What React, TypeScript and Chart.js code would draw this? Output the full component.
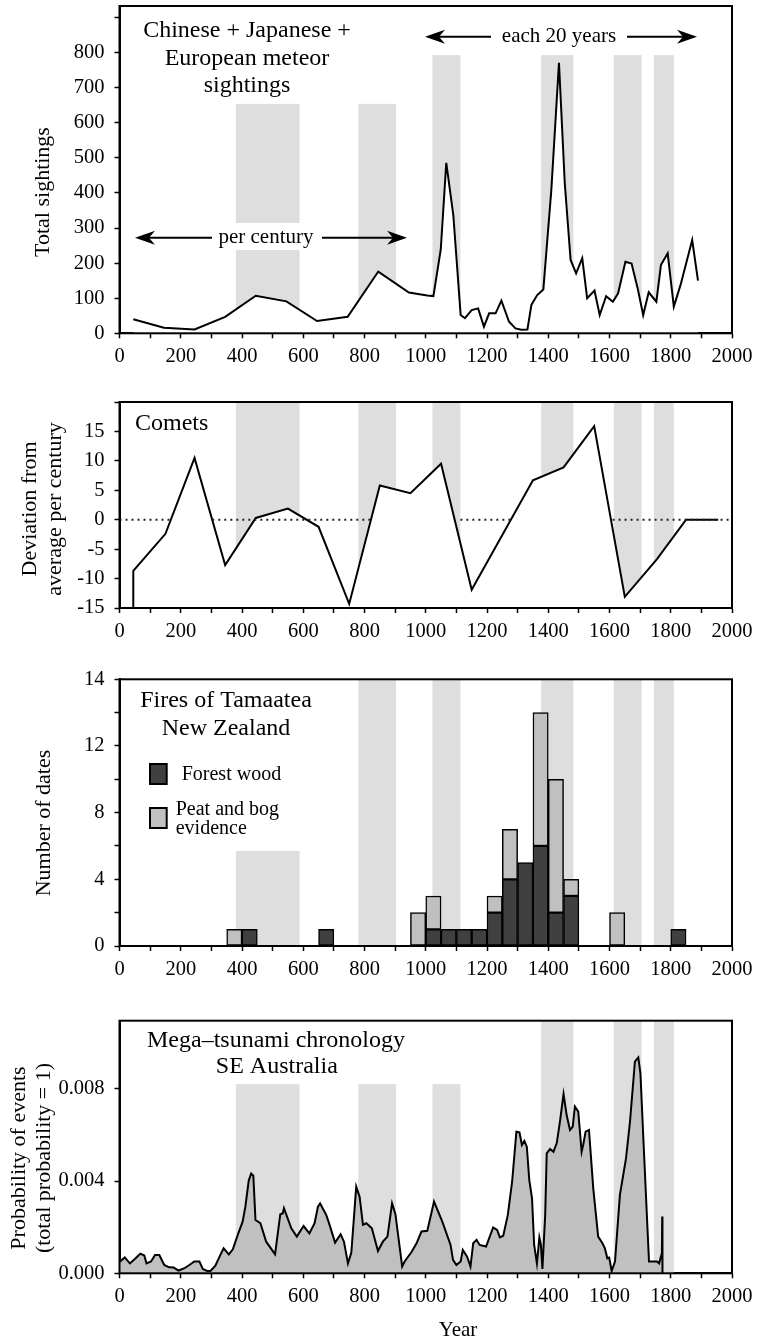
import React, { useEffect, useRef } from 'react';
import { Chart, registerables } from 'chart.js';

Chart.register(...registerables);

const FONT = "'Liberation Serif', 'Times New Roman', Times, serif";
Chart.defaults.font.family = FONT;
Chart.defaults.color = '#000';

// Shaded intervals (years)
const BAND_START = [380, 780, 1022, 1377, 1614, 1745];
const BAND_END = [588, 903, 1113, 1482, 1705, 1810];

// Panel 1: meteor sightings
const METEOR_YEARS = [45, 145, 245, 345, 445, 545, 645, 745, 845, 945, 1005, 1025, 1049, 1067, 1090, 1114, 1128, 1150, 1171, 1190, 1207, 1228, 1247, 1272, 1293, 1312, 1332, 1345, 1364, 1384, 1410, 1435, 1454, 1473, 1491, 1511, 1527, 1551, 1568, 1589, 1611, 1628, 1652, 1672, 1692, 1710, 1728, 1753, 1768, 1790, 1810, 1832, 1870, 1889];
const METEOR_SIGHTINGS = [40, 16, 11, 47, 107, 91, 35, 47, 176, 116, 108, 106, 239, 486, 337, 52, 43, 66, 71, 19, 57, 57, 93, 33, 14, 10, 11, 81, 109, 125, 408, 771, 427, 209, 171, 214, 100, 122, 52, 106, 90, 114, 204, 199, 128, 52, 117, 90, 195, 228, 76, 138, 266, 150];

// Panel 2: comets
const COMET_YEARS = [45, 45, 150, 245, 345, 445, 550, 650, 750, 850, 950, 1050, 1150, 1350, 1450, 1550, 1650, 1755, 1850, 1955];
const COMET_DEVIATION = [-15, -8.7, -2.4, 10.5, -7.7, 0.3, 1.9, -1.2, -14.3, 5.8, 4.5, 9.5, -11.9, 6.7, 8.9, 15.9, -13.1, -6.7, 0, 0];
const ZERO_SEG_START = [0, 303, 1113, 1610];
const ZERO_SEG_END = [168, 821, 1278, 2000];

// Panel 3: fires (50-year bins, centers)
const FOREST_BINS = [425, 675, 1025, 1075, 1125, 1175, 1225, 1275, 1325, 1375, 1425, 1475, 1825];
const FOREST_COUNTS = [1, 1, 1, 1, 1, 1, 2, 4, 5, 6, 2, 3, 1];
const PEAT_BINS = [375, 975, 1025, 1225, 1275, 1375, 1425, 1475, 1625];
const PEAT_COUNTS = [1, 2, 2, 1, 3, 8, 8, 1, 2];

// Panel 4: mega-tsunami probability
const TSUNAMI_YEARS = [0, 4, 17, 34, 50, 68, 81, 88, 103, 116, 130, 146, 162, 177, 193, 212, 228, 244, 261, 272, 286, 297, 313, 329, 340, 357, 370, 386, 402, 411, 422, 430, 437, 444, 460, 479, 508, 525, 533, 537, 561, 579, 601, 620, 637, 648, 655, 675, 686, 704, 722, 733, 746, 757, 773, 784, 795, 806, 824, 844, 860, 875, 890, 901, 923, 931, 953, 970, 986, 1005, 1027, 1054, 1081, 1089, 1100, 1114, 1121, 1135, 1146, 1155, 1166, 1176, 1197, 1220, 1233, 1242, 1253, 1268, 1282, 1296, 1306, 1314, 1322, 1330, 1338, 1347, 1354, 1363, 1371, 1376, 1381, 1390, 1395, 1406, 1417, 1428, 1439, 1450, 1460, 1471, 1480, 1487, 1498, 1509, 1514, 1522, 1533, 1547, 1563, 1577, 1585, 1593, 1599, 1607, 1618, 1634, 1654, 1667, 1683, 1694, 1701, 1712, 1729, 1755, 1762, 1771, 1772, 1773];
const TSUNAMI_PROB = [0.00051, 0.00053, 0.00069, 0.00043, 0.00062, 0.00085, 0.00077, 0.00043, 0.00051, 0.00079, 0.00079, 0.00036, 0.00026, 0.00025, 0.00012, 0.00022, 0.00036, 0.00051, 0.00051, 0.00019, 0.0001, 0.0001, 0.00033, 0.00079, 0.00108, 0.00082, 0.00104, 0.00166, 0.00224, 0.00289, 0.00402, 0.00432, 0.00423, 0.00231, 0.00217, 0.00137, 0.00082, 0.00256, 0.00259, 0.00282, 0.00195, 0.00159, 0.00205, 0.00173, 0.00217, 0.00289, 0.00303, 0.00253, 0.0021, 0.00133, 0.00169, 0.00137, 0.00043, 0.0009, 0.00376, 0.00332, 0.0021, 0.00217, 0.00195, 0.00097, 0.00137, 0.00159, 0.00303, 0.00256, 0.00029, 0.00051, 0.00091, 0.0013, 0.00181, 0.00184, 0.00311, 0.00224, 0.00123, 0.00058, 0.00036, 0.00051, 0.00101, 0.00072, 0.00029, 0.0013, 0.00145, 0.00123, 0.00116, 0.00199, 0.00188, 0.00156, 0.00163, 0.00253, 0.00397, 0.00614, 0.00611, 0.00556, 0.00574, 0.00549, 0.00405, 0.00325, 0.00123, 0.00043, 0.00155, 0.00123, 0.00019, 0.00253, 0.0052, 0.00539, 0.00527, 0.00566, 0.00665, 0.00777, 0.00686, 0.00621, 0.00636, 0.00723, 0.00701, 0.00527, 0.00556, 0.00614, 0.00621, 0.00368, 0.00159, 0.0013, 0.00108, 0.00065, 0.00068, 0.0001, 0.00051, 0.0034, 0.00499, 0.00658, 0.00918, 0.00936, 0.00867, 0.00542, 0.00051, 0.00051, 0.00043, 0.00087, 0.00246, 0];

type TextItem = { text: string; x: number; y: number; size: number; align?: CanvasTextAlign; rotate?: boolean };
type Arrow = { x1: number; x2: number; y: number };
type Rect = { x: number; y: number; w: number; h: number; fill: string; stroke?: boolean };
type Decor = { top: number; bandTops: (number | null)[]; texts: TextItem[]; arrows?: Arrow[]; rects?: Rect[] };

function arrowHead(ctx: CanvasRenderingContext2D, tipX: number, y: number, dir: number) {
  ctx.beginPath();
  ctx.moveTo(tipX, y);
  ctx.lineTo(tipX - dir * 20, y - 7);
  ctx.lineTo(tipX - dir * 14, y);
  ctx.lineTo(tipX - dir * 20, y + 7);
  ctx.closePath();
  ctx.fill();
}

function makeDecor(d: Decor) {
  return {
    id: 'decor',
    beforeDatasetsDraw(chart: any) {
      const { ctx, chartArea: a, scales } = chart;
      const x = scales.x, y = scales.y;
      ctx.save();
      ctx.fillStyle = '#dedede';
      BAND_START.forEach((s, i) => {
        const t = d.bandTops[i];
        const top = t == null ? a.top : y.getPixelForValue(t);
        const x0 = x.getPixelForValue(s);
        const x1 = x.getPixelForValue(BAND_END[i]);
        ctx.fillRect(x0, top, x1 - x0, a.bottom - top);
      });
      ctx.restore();
    },
    afterDatasetsDraw(chart: any) {
      const { ctx, chartArea: a } = chart;
      ctx.save();
      ctx.strokeStyle = '#000';
      ctx.lineWidth = 2;
      ctx.strokeRect(a.left, a.top, a.right - a.left, a.bottom - a.top);
      ctx.restore();
    },
    afterDraw(chart: any) {
      const ctx: CanvasRenderingContext2D = chart.ctx;
      const off = d.top;
      ctx.save();
      (d.arrows || []).forEach((ar) => {
        const y = ar.y - off;
        ctx.strokeStyle = '#000';
        ctx.fillStyle = '#000';
        ctx.lineWidth = 2;
        ctx.beginPath();
        ctx.moveTo(ar.x1 + 14, y);
        ctx.lineTo(ar.x2 - 14, y);
        ctx.stroke();
        arrowHead(ctx, ar.x1, y, -1);
        arrowHead(ctx, ar.x2, y, 1);
      });
      (d.rects || []).forEach((r) => {
        ctx.fillStyle = r.fill;
        ctx.fillRect(r.x, r.y - off, r.w, r.h);
        if (r.stroke) {
          ctx.strokeStyle = '#000';
          ctx.lineWidth = 2;
          ctx.strokeRect(r.x, r.y - off, r.w, r.h);
        }
      });
      d.texts.forEach((t) => {
        ctx.fillStyle = '#000';
        ctx.font = `${t.size}px ${FONT}`;
        ctx.textBaseline = 'alphabetic';
        ctx.textAlign = t.align || 'center';
        if (t.rotate) {
          ctx.save();
          ctx.translate(t.x, t.y - off);
          ctx.rotate(-Math.PI / 2);
          ctx.fillText(t.text, 0, 0);
          ctx.restore();
        } else {
          ctx.fillText(t.text, t.x, t.y - off);
        }
      });
      ctx.restore();
    },
  };
}

const TICK_FONT = { size: 20.5, family: FONT };
const gridOpts = { display: true, drawOnChartArea: false, drawTicks: true, tickLength: 5, tickWidth: 1.5, tickColor: '#000' };
const borderOpts = { display: true, color: '#000', width: 2 };

function xScale(height: number, stacked = false) {
  return {
    type: 'linear',
    min: 0,
    max: 2000,
    offset: false,
    stacked,
    ticks: {
      stepSize: 100,
      autoSkip: false,
      maxRotation: 0,
      padding: 6,
      font: TICK_FONT,
      color: '#000',
      callback: (v: number) => (v % 200 === 0 ? String(v) : ''),
    },
    grid: { ...gridOpts, offset: false },
    border: borderOpts,
    afterFit: (s: any) => {
      s.height = height;
      s.paddingLeft = 0;
      s.paddingRight = 0;
    },
  };
}

function yScale(min: number, max: number, step: number, cb: (v: number) => string, stacked = false) {
  return {
    type: 'linear',
    min,
    max,
    stacked,
    ticks: { stepSize: step, includeBounds: false, padding: 10, font: TICK_FONT, color: '#000', callback: cb },
    grid: gridOpts,
    border: borderOpts,
    afterFit: (s: any) => {
      s.width = 119.5;
      s.paddingTop = 0;
      s.paddingBottom = 0;
    },
  };
}

function baseOptions(padTop: number, scales: any) {
  return {
    responsive: false,
    animation: false,
    events: [],
    layout: { padding: { top: padTop, right: 25, bottom: 0, left: 0 } },
    plugins: { legend: { display: false }, tooltip: { enabled: false } },
    scales,
  };
}

const PANELS = [
  { top: 0, h: 370 },
  { top: 370, h: 270 },
  { top: 640, h: 340 },
  { top: 980, h: 360 },
];

function config1(): any {
  return {
    type: 'line',
    data: {
      datasets: [
        {
          data: METEOR_YEARS.map((x, i) => ({ x, y: METEOR_SIGHTINGS[i] })),
          borderColor: '#000',
          borderWidth: 2,
          pointRadius: 0,
          tension: 0,
          fill: 'start',
          backgroundColor: '#fff',
          borderJoinStyle: 'miter',
        },
      ],
    },
    options: baseOptions(6, {
      x: xScale(36.7),
      y: yScale(0, 933, 50, (v) => (v % 100 === 0 && v <= 800 ? String(v) : '')),
    }),
    plugins: [
      makeDecor({
        top: 0,
        bandTops: [654, 654, 793, 793, 793, 793],
        arrows: [
          { x1: 135, x2: 407, y: 237.7 },
          { x1: 425, x2: 697, y: 36.7 },
        ],
        rects: [
          { x: 212, y: 223, w: 110, h: 27, fill: '#fff' },
          { x: 491, y: 24, w: 136, h: 26, fill: '#fff' },
        ],
        texts: [
          { text: 'Chinese + Japanese +', x: 247, y: 37, size: 24 },
          { text: 'European meteor', x: 247, y: 64.5, size: 24 },
          { text: 'sightings', x: 247, y: 92, size: 24 },
          { text: 'per century', x: 266, y: 243, size: 21 },
          { text: 'each 20 years', x: 559, y: 42, size: 21 },
          { text: 'Total sightings', x: 49, y: 192, size: 22, rotate: true },
        ],
      }),
    ],
  };
}

function config2(): any {
  const dotted: any[] = [];
  ZERO_SEG_START.forEach((s, i) => {
    dotted.push({ x: s, y: 0 }, { x: ZERO_SEG_END[i], y: 0 }, { x: ZERO_SEG_END[i], y: null });
  });
  return {
    type: 'line',
    data: {
      datasets: [
        {
          data: dotted,
          borderColor: '#222',
          borderWidth: 2,
          borderDash: [2, 4],
          pointRadius: 0,
          fill: false,
          spanGaps: false,
        },
        {
          data: COMET_YEARS.map((x, i) => ({ x, y: COMET_DEVIATION[i] })),
          borderColor: '#000',
          borderWidth: 2,
          pointRadius: 0,
          tension: 0,
          fill: 'start',
          backgroundColor: '#fff',
          borderJoinStyle: 'miter',
        },
      ],
    },
    options: baseOptions(32, {
      x: xScale(32),
      y: yScale(-15, 20, 5, (v) => (v <= 15 ? String(v) : '')),
    }),
    plugins: [
      makeDecor({
        top: 370,
        bandTops: [null, null, null, null, null, null],
        texts: [
          { text: 'Comets', x: 135, y: 430, size: 24, align: 'left' },
          { text: 'Deviation from', x: 35.7, y: 509, size: 22, rotate: true },
          { text: 'average per century', x: 61, y: 509, size: 22, rotate: true },
        ],
      }),
    ],
  };
}

function config3(): any {
  const common = { borderColor: '#000', borderWidth: 1.5, borderSkipped: false, barPercentage: 1, categoryPercentage: 1 };
  return {
    type: 'bar',
    data: {
      datasets: [
        { label: 'Forest wood', data: FOREST_BINS.map((x, i) => ({ x, y: FOREST_COUNTS[i] })), backgroundColor: '#404040', ...common },
        { label: 'Peat and bog evidence', data: PEAT_BINS.map((x, i) => ({ x, y: PEAT_COUNTS[i] })), backgroundColor: '#c0c0c0', ...common },
      ],
    },
    options: baseOptions(39.3, {
      x: xScale(34, true),
      y: yScale(0, 16, 2, (v) => (v === 16 ? '14' : v % 4 === 0 ? String(v) : ''), true),
    }),
    plugins: [
      makeDecor({
        top: 640,
        bandTops: [5.7, null, null, null, null, null],
        rects: [
          { x: 150, y: 764, w: 16.7, h: 20, fill: '#404040', stroke: true },
          { x: 150, y: 808, w: 16.7, h: 20, fill: '#c0c0c0', stroke: true },
        ],
        texts: [
          { text: 'Fires of Tamaatea', x: 226, y: 706.7, size: 24 },
          { text: 'New Zealand', x: 226, y: 735, size: 24 },
          { text: 'Forest wood', x: 181.7, y: 780, size: 20, align: 'left' },
          { text: 'Peat and bog', x: 175.7, y: 815, size: 20, align: 'left' },
          { text: 'evidence', x: 175.7, y: 834.3, size: 20, align: 'left' },
          { text: 'Number of dates', x: 50, y: 823, size: 22, rotate: true },
        ],
      }),
    ],
  };
}

function config4(): any {
  return {
    type: 'line',
    data: {
      datasets: [
        {
          data: TSUNAMI_YEARS.map((x, i) => ({ x, y: TSUNAMI_PROB[i] })),
          borderColor: '#000',
          borderWidth: 2,
          pointRadius: 0,
          tension: 0,
          fill: 'origin',
          backgroundColor: '#c0c0c0',
        },
      ],
    },
    options: baseOptions(40.7, {
      x: xScale(66.7),
      y: yScale(0, 0.01095, 0.004, (v) => Number(v).toFixed(3)),
    }),
    plugins: [
      makeDecor({
        top: 980,
        bandTops: [0.0082, 0.0082, 0.0082, null, null, null],
        texts: [
          { text: 'Mega\u2013tsunami chronology', x: 276, y: 1046.5, size: 24 },
          { text: 'SE Australia', x: 276.8, y: 1073, size: 24 },
          { text: 'Probability of events', x: 25, y: 1158, size: 22, rotate: true },
          { text: '(total probability = 1)', x: 49.5, y: 1158, size: 22, rotate: true },
          { text: 'Year', x: 458, y: 1336, size: 21 },
        ],
      }),
    ],
  };
}

export default function App() {
  const r1 = useRef<HTMLCanvasElement>(null);
  const r2 = useRef<HTMLCanvasElement>(null);
  const r3 = useRef<HTMLCanvasElement>(null);
  const r4 = useRef<HTMLCanvasElement>(null);

  useEffect(() => {
    const refs = [r1, r2, r3, r4];
    const cfgs = [config1(), config2(), config3(), config4()];
    const charts = refs.map((r, i) => new Chart(r.current as HTMLCanvasElement, cfgs[i]));
    return () => charts.forEach((c) => c.destroy());
  }, []);

  const refs = [r1, r2, r3, r4];
  return (
    <div style={{ position: 'absolute', left: 0, top: 0, width: 757, height: 1340, background: '#fff' }}>
      {PANELS.map((p, i) => (
        <canvas
          key={i}
          ref={refs[i]}
          width={757}
          height={p.h}
          style={{ position: 'absolute', left: 0, top: p.top, width: 757, height: p.h, display: 'block' }}
        />
      ))}
    </div>
  );
}
